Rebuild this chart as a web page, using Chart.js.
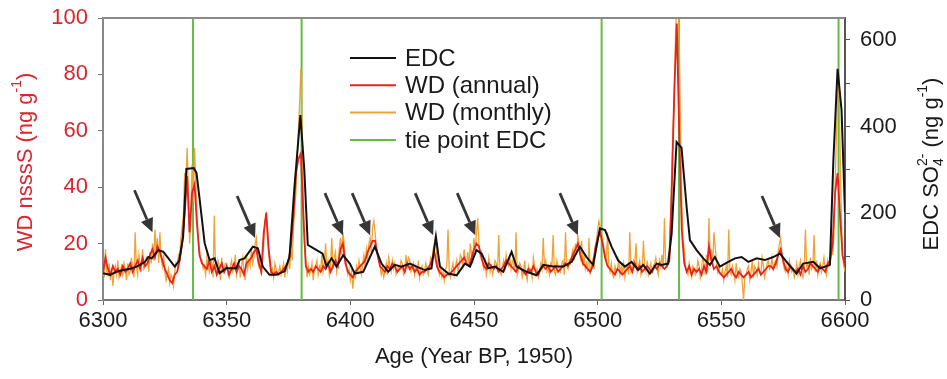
<!DOCTYPE html>
<html>
<head>
<meta charset="utf-8">
<script src="https://cdn.jsdelivr.net/npm/chart.js@4.4.1/dist/chart.umd.min.js"></script>
<style>
  body { margin: 0; background: #fff; }
  canvas { display: block; }
</style>
</head>
<body>
<canvas id="myChart" width="947" height="379"></canvas>
<script>
// EDC sulfate (right axis, ng/g)
var edcAge = [6300,6302.8,6305.5,6308.2,6311,6313.6,6317,6318.3,6319.7,6322.4,
  6324.4,6327,6329,6330.8,6332.4,6333.7,6336.7,6337.8,6339.1,6341.1,
  6343.1,6345.1,6347.1,6349.8,6353.9,6355.2,6357.2,6358.6,6360.6,6362.6,
  6364.6,6367.3,6370,6373.4,6375.4,6377.4,6379.8,6381.4,6382.8,6388.8,
  6390.4,6392.4,6394.4,6397.1,6399.8,6401.8,6405.2,6409.9,6412.6,6415.3,
  6418,6420.7,6424.1,6426.8,6430.1,6432.8,6434.6,6436.2,6439.6,6443,
  6446.3,6448.4,6451,6453.1,6455.8,6458.5,6461.8,6465.2,6467.2,6471.3,
  6475.3,6478,6482,6486.1,6489.5,6492.8,6495.5,6498.2,6500.9,6503,
  6505.6,6508.3,6511,6513.7,6516.4,6518.4,6521.1,6523.8,6525.8,6528.5,
  6529.9,6531.9,6533.9,6536,6537.3,6540,6542.7,6545.4,6547.4,6549.4,
  6552.8,6555.5,6558.2,6560.9,6564.3,6567.6,6571,6573.7,6576.4,6580.4,
  6583.1,6587.2,6589.9,6593.9,6595.3,6597,6598.6,6600];
var edcSO4 = [62,58,65,69,72,77,88,99,96,115,
  111,92,77,91,146,302,304,293,231,131,
  92,96,62,73,73,92,96,107,123,119,
  77,58,58,66,99,260,426,299,127,107,
  77,96,77,103,84,61,65,123,84,65,
  81,77,84,77,69,73,146,77,61,57,
  84,77,115,107,73,77,65,111,77,65,
  57,81,77,77,88,123,99,81,165,161,
  123,91,77,88,69,81,61,84,81,84,
  153,364,351,212,138,115,96,81,99,77,
  88,96,99,88,96,92,99,107,88,61,
  84,88,73,81,322,533,438,202];

// WD nssS annual, one value per year from 6300
var wdAnnualStart = 6300;
var wdAnnual = [
  10,15,11,9,12,10,11,9,12,10,
  11,13,10,12,14,11,15,12,13,16,
  18,15,19,17,14,11,9,7,6,9,
  10,14,20,30,44,24,38,41,27,16,
  13,12,11,14,10,12,9,11,13,10,
  12,9,11,13,10,12,11,9,13,14,
  15,17,18,13,10,24,31,18,10,9,
  10,9,10,11,12,14,19,30,45,50,
  52,30,12,10,11,10,12,11,10,12,
  11,13,10,12,14,12,18,20,13,10,
  9,8,10,11,12,13,14,17,19,21,
  21,16,12,11,10,12,11,13,12,10,
  11,12,10,13,11,12,10,11,9,10,
  10,11,12,14,17,12,10,9,8,9,
  9,10,11,12,13,14,15,13,12,15,
  18,20,19,15,12,11,13,12,11,12,
  10,11,12,14,13,12,11,10,12,11,
  10,9,11,10,12,10,9,11,12,11,
  12,10,11,12,10,11,12,13,12,14,
  16,18,20,16,13,12,11,10,12,18,
  22,24,20,15,12,11,10,9,11,10,
  9,10,11,12,10,13,11,12,10,11,
  12,11,10,12,11,13,12,11,12,14,
  40,75,98,58,25,13,10,12,9,11,
  10,11,9,12,10,19,14,11,12,10,
  9,8,9,10,11,9,8,10,9,8,
  9,10,8,9,10,11,9,10,11,12,
  12,11,13,16,18,14,11,10,12,11,
  10,11,9,12,10,11,13,12,11,10,
  12,11,10,13,14,20,38,45,30,16,
  12];

// WD nssS monthly, sampled every half year from 6300
var wdMonthlyStart = 6300;
var wdMonthlyStep = 0.5;
var wdMonthly = [
  12,8, 18,10, 9,13, 7,11, 5,10, 12,9, 14,8, 10,12, 9,13, 11,7,
  13,9, 10,15, 11,8, 24,12, 9,16, 13,10, 18,11, 12,15, 14,10, 17,13,
  20,14, 25,17, 22,13, 24,15, 12,16, 10,7, 9,11, 6,9, 8,5, 10,13,
  12,16, 15,22, 26,30, 45,38, 54,40, 20,28, 48,35, 54,42, 30,22, 18,14,
  14,11, 12,9, 15,12, 10,14, 13,8, 30,11, 9,14, 12,7, 15,10, 11,13,
  13,9, 8,12, 14,10, 11,16, 9,12, 13,8, 12,15, 10,7, 16,11, 14,12,
  18,13, 15,20, 22,14, 12,16, 9,14, 20,28, 30,22, 16,12, 9,11, 8,13,
  11,9, 10,12, 9,11, 13,8, 12,10, 15,11, 18,14, 25,32, 38,50, 60,70,
  82,60, 35,18, 14,8, 12,9, 10,13, 7,11, 12,14, 9,12, 11,16, 10,13,
  20,12, 14,9, 12,22, 11,15, 17,10, 13,18, 22,16, 24,20, 15,12, 9,11,
  7,10, 4,9, 8,12, 10,14, 11,9, 13,16, 12,18, 15,20, 22,17, 26,28,
  24,19, 17,14, 12,9, 11,8, 10,13, 9,15, 12,10, 14,11, 13,9, 10,12,
  11,14, 13,9, 10,16, 12,15, 14,10, 11,13, 9,12, 10,14, 8,11, 12,9,
  10,13, 11,9, 12,15, 14,18, 20,23, 15,11, 9,12, 8,10, 7,11, 12,25,
  10,8, 11,13, 9,12, 14,10, 12,16, 15,12, 18,14, 13,17, 12,20, 16,13,
  22,17, 24,29, 20,16, 17,13, 11,14, 9,12, 15,10, 12,9, 11,14, 13,10,
  23,10, 9,12, 14,11, 16,13, 12,15, 11,14, 13,10, 24,9, 11,13, 12,8,
  10,14, 9,7, 12,10, 11,8, 15,12, 9,11, 8,10, 13,11, 22,12, 14,10,
  11,9, 13,12, 23,10, 9,14, 12,11, 10,13, 14,9, 24,12, 11,14, 13,16,
  18,14, 20,16, 23,18, 15,21, 12,16, 11,13, 10,22, 9,12, 14,11, 19,21,
  25,28, 26,23, 22,18, 16,14, 24,12, 10,13, 9,8, 12,10, 11,14, 9,12,
  10,13, 8,11, 12,9, 24,10, 11,14, 13,20, 10,12, 14,9, 11,21, 12,10,
  14,9, 11,13, 10,12, 13,15, 11,9, 14,12, 16,11, 29,13, 12,15, 18,30,
  48,62, 70,95, 106,108, 90,60, 35,22, 18,12, 11,9, 13,10, 8,12, 11,9,
  10,14, 12,8, 11,15, 13,9, 16,10, 29,14, 18,12, 24,19, 14,10, 12,9,
  9,11, 7,10, 12,8, 25,10, 9,12, 10,7, 13,9, 8,11, 10,6, 0,8,
  9,11, 12,7, 10,14, 8,12, 11,9, 13,10, 9,15, 12,8, 10,13, 14,11,
  12,15, 11,13, 14,12, 17,20, 22,16, 13,11, 10,12, 9,14, 12,10, 11,8,
  10,13, 9,12, 14,10, 8,11, 25,12, 13,9, 15,11, 12,23, 10,14, 9,12,
  13,10, 12,15, 11,9, 14,12, 16,20, 16,22, 40,58, 72,76, 55,30, 16,12,
  10];

// tie points and arrow tips (age, WD value)
var tieAges = [6336.4, 6380.3, 6501.6, 6532.9, 6597.4];
var arrowAge = [6320, 6361.5, 6397, 6408, 6433.5, 6450.5, 6492, 6573.7];
var arrowVal = [24, 22, 23, 23, 23, 23, 23, 22];

var edcTicks = [0, 100, 200, 300, 400, 500, 600];

var FONT = "'Liberation Sans', Arial, sans-serif";
var RED_TXT = '#d9262e';

// axis titles with sub/superscripts: [text, shift] (0 normal, 1 sup, -1 sub)
var leftTitle = [['WD nsssS (ng g', 0], ['-1', 1], [')', 0]];
var rightTitle = [['EDC SO', 0], ['4', -1, 'stack'], ['2-', 1], [' (ng g', 0], ['-1', 1], [')', 0]];

var edcPts = edcAge.map(function (a, i) { return {x: a, y: edcSO4[i]}; });
var annualPts = wdAnnual.map(function (v, i) { return {x: wdAnnualStart + i, y: v}; });
var monthlyPts = wdMonthly.map(function (v, i) { return {x: wdMonthlyStart + i * wdMonthlyStep, y: v}; });
var tiePts = [];
tieAges.forEach(function (a) {
  tiePts.push({x: a, y: 0}, {x: a, y: 100}, {x: a, y: null});
});

function drawRich(ctx, parts, cx, cy, color) {
  var big = '22px ' + FONT, small = '14px ' + FONT;
  // measure
  var w = 0, xs = [];
  parts.forEach(function (p) {
    ctx.font = p[1] === 0 ? big : small;
    xs.push(w);
    if (p[2] !== 'stack') w += ctx.measureText(p[0]).width;
  });
  ctx.save();
  ctx.translate(cx, cy);
  ctx.rotate(-Math.PI / 2);
  ctx.fillStyle = color;
  ctx.textBaseline = 'middle';
  ctx.textAlign = 'left';
  parts.forEach(function (p, i) {
    ctx.font = p[1] === 0 ? big : small;
    var dy = p[1] === 1 ? -9 : (p[1] === -1 ? 7 : 0);
    ctx.fillText(p[0], xs[i] - w / 2, dy);
  });
  ctx.restore();
}

var axisTitles = {
  id: 'axisTitles',
  afterDraw: function (chart) {
    var a = chart.chartArea, ctx = chart.ctx;
    var mid = (a.top + a.bottom) / 2 + 3;
    drawRich(ctx, leftTitle, 26, mid, RED_TXT);
    drawRich(ctx, rightTitle, 932, mid + 2, '#1a1a1a');
  }
};

// legend drawn inside the plot
var insideLegend = {
  id: 'insideLegend',
  afterDraw: function (chart) {
    var ctx = chart.ctx;
    ctx.save();
    ctx.font = '24px ' + FONT;
    ctx.textBaseline = 'middle';
    chart.data.datasets.forEach(function (ds, i) {
      var y = 58 + i * 27.3;
      ctx.strokeStyle = ds.borderColor;
      ctx.lineWidth = 2;
      ctx.beginPath();
      ctx.moveTo(350, y);
      ctx.lineTo(396, y);
      ctx.stroke();
      ctx.fillStyle = '#1a1a1a';
      ctx.fillText(ds.label, 405, y + 1);
    });
    ctx.restore();
  }
};

// arrows pointing at the small events
var arrows = {
  id: 'arrows',
  afterDatasetsDraw: function (chart) {
    var ctx = chart.ctx, xs = chart.scales.x, ys = chart.scales.y;
    ctx.save();
    ctx.strokeStyle = '#363636';
    ctx.fillStyle = '#363636';
    ctx.lineWidth = 2.8;
    for (var i = 0; i < arrowAge.length; i++) {
      var tx = xs.getPixelForValue(arrowAge[i]);
      var ty = ys.getPixelForValue(arrowVal[i]);
      var sx = tx - 18, sy = ty - 42;
      var ang = Math.atan2(ty - sy, tx - sx);
      var hl = 14, hw = 6.5;
      var bx = tx - hl * Math.cos(ang), by = ty - hl * Math.sin(ang);
      ctx.beginPath();
      ctx.moveTo(sx, sy);
      ctx.lineTo(bx, by);
      ctx.stroke();
      ctx.beginPath();
      ctx.moveTo(tx, ty);
      ctx.lineTo(bx + hw * Math.sin(ang), by - hw * Math.cos(ang));
      ctx.lineTo(bx - hw * Math.sin(ang), by + hw * Math.cos(ang));
      ctx.closePath();
      ctx.fill();
    }
    ctx.restore();
  }
};

// top frame line
var topFrame = {
  id: 'topFrame',
  afterDraw: function (chart) {
    var a = chart.chartArea, ctx = chart.ctx;
    ctx.save();
    ctx.strokeStyle = '#8a8a8a';
    ctx.lineWidth = 2;
    ctx.beginPath();
    ctx.moveTo(a.left, a.top);
    ctx.lineTo(a.right, a.top);
    ctx.stroke();
    ctx.restore();
  }
};

function fixVertical(w) {
  return function (s) {
    s.width = w;
    s.paddingTop = 0;
    s.paddingBottom = 0;
  };
}

var ctx = document.getElementById('myChart').getContext('2d');
var chart = new Chart(ctx, {
  type: 'line',
  data: {
    datasets: [{
      label: 'EDC',
      data: edcPts,
      yAxisID: 'y1',
      borderColor: '#111111',
      borderWidth: 2,
      pointRadius: 0
    }, {
      label: 'WD (annual)',
      data: annualPts,
      yAxisID: 'y',
      borderColor: '#e8231d',
      borderWidth: 1.8,
      pointRadius: 0
    }, {
      label: 'WD (monthly)',
      data: monthlyPts,
      yAxisID: 'y',
      borderColor: '#f0a236',
      borderWidth: 1.3,
      pointRadius: 0
    }, {
      label: 'tie point EDC',
      data: tiePts,
      yAxisID: 'y',
      borderColor: '#66bb44',
      borderWidth: 2,
      pointRadius: 0,
      spanGaps: false
    }]
  },
  options: {
    responsive: false,
    animation: false,
    layout: {padding: {top: 18, left: 0, right: 0, bottom: 0}},
    plugins: {legend: {display: false}, tooltip: {enabled: false}},
    scales: {
      x: {
        type: 'linear', min: 6300, max: 6600,
        ticks: {stepSize: 50, padding: 3, color: '#1a1a1a', font: {family: FONT, size: 22},
          callback: function (v) { return String(v); }},
        grid: {drawOnChartArea: false, drawTicks: true, tickLength: 5, color: '#666'},
        border: {color: '#777', width: 2},
        title: {display: true, text: 'Age (Year BP, 1950)', color: '#1a1a1a',
          font: {family: FONT, size: 22}, padding: {top: 0, bottom: 9}},
        afterFit: function (s) { s.height = 79; s.paddingLeft = 0; s.paddingRight = 0; }
      },
      y: {
        position: 'left', min: 0, max: 100,
        ticks: {stepSize: 20, padding: 10, color: RED_TXT, font: {family: FONT, size: 22}},
        grid: {drawOnChartArea: false, drawTicks: true, tickLength: 5, color: '#777'},
        border: {color: '#888', width: 2},
        afterFit: fixVertical(103)
      },
      y1: {
        position: 'right', min: 0, max: 650,
        afterBuildTicks: function (s) { s.ticks = edcTicks.map(function (v) { return {value: v}; }); },
        ticks: {padding: 10, color: '#1a1a1a', font: {family: FONT, size: 22},
          callback: function (v) { return v % 200 === 0 ? String(v) : ''; }},
        grid: {drawOnChartArea: false, drawTicks: true, tickLength: 5, color: '#555'},
        border: {color: '#555', width: 2},
        afterFit: fixVertical(102)
      }
    }
  },
  plugins: [arrows, topFrame, insideLegend, axisTitles]
});
</script>
</body>
</html>
